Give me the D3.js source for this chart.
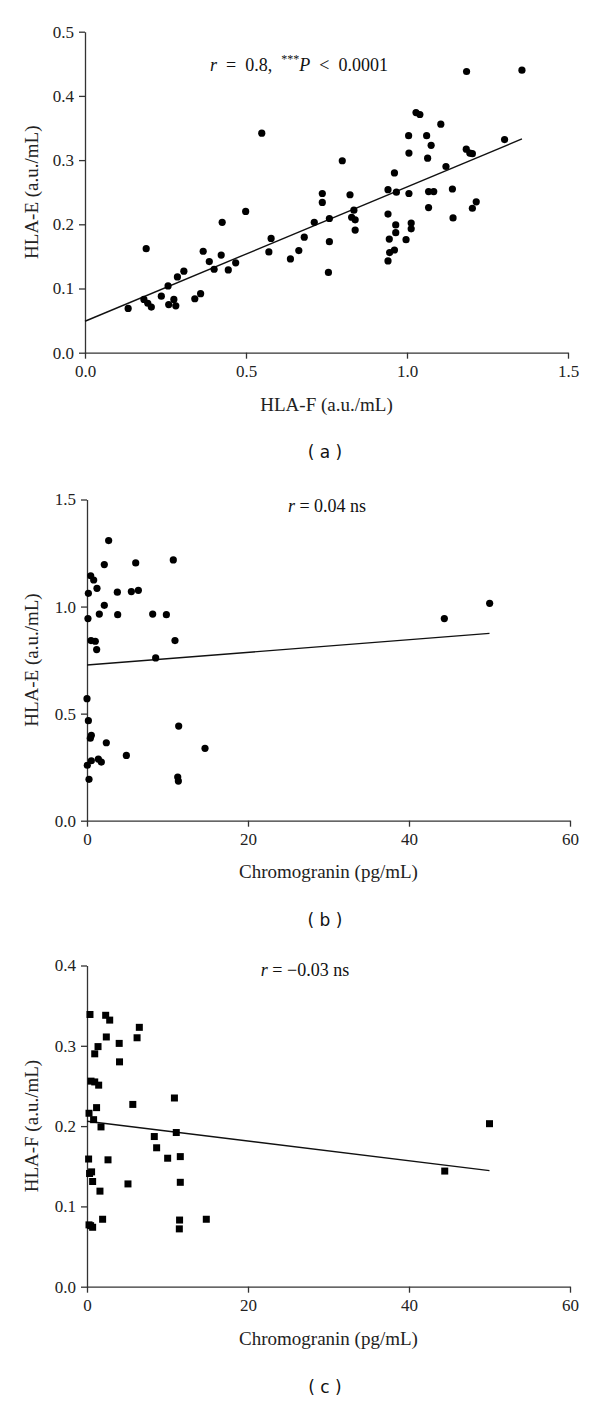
<!DOCTYPE html>
<html>
<head>
<meta charset="utf-8">
<script src="https://cdn.jsdelivr.net/npm/d3@7"></script>
<style>
  html, body { margin: 0; padding: 0; background: #fff; }
  svg { display: block; }
  text { white-space: pre; }
</style>
</head>
<body>
<svg id="chart" width="600" height="1401"></svg>
<script>
// ---------- Panel (a): HLA-F vs HLA-E ----------
const aHLAF = [0.134,0.190,0.183,0.195,0.206,0.237,0.258,0.260,0.276,0.282,0.287,0.307,0.341,0.359,0.367,0.386,0.401,0.423,0.426,0.445,0.468,0.499,0.549,0.571,0.578,0.638,0.664,0.681,0.712,0.737,0.737,0.759,0.759,0.756,
  0.799,0.823,0.835,0.828,0.839,0.839,0.941,0.941,0.945,0.941,0.946,0.961,0.961,0.967,0.965,0.965,0.997,1.005,1.006,1.006,1.013,1.013,1.028,1.040,1.061,1.075,1.064,1.067,1.083,1.067,1.105,1.121,1.141,1.143,1.185,1.184,1.195,1.203,1.215,1.203,1.303,1.357];
const aHLAE = [0.069,0.162,0.083,0.077,0.071,0.088,0.104,0.075,0.083,0.073,0.118,0.127,0.084,0.092,0.158,0.142,0.130,0.152,0.203,0.129,0.140,0.220,0.342,0.157,0.178,0.146,0.159,0.180,0.203,0.248,0.234,0.209,0.173,0.125,
  0.299,0.246,0.222,0.211,0.207,0.191,0.254,0.216,0.177,0.143,0.156,0.160,0.280,0.250,0.199,0.187,0.176,0.338,0.311,0.248,0.202,0.193,0.374,0.371,0.338,0.323,0.303,0.251,0.251,0.226,0.356,0.290,0.255,0.210,0.438,0.317,0.311,0.310,0.235,0.225,0.332,0.440];
const aFitX = [0, 1.357];
const aFitY = [0.049, 0.333];
const aXTicks = [0, 0.5, 1.0, 1.5];
const aYTicks = [0, 0.1, 0.2, 0.3, 0.4, 0.5];

// ---------- Panel (b): Chromogranin vs HLA-E ----------
const bChromo = [2.69,2.15,6.05,10.72,0.46,0.83,1.24,0.17,3.77,5.51,6.38,2.15,0.12,1.53,3.81,8.16,9.86,0.50,1.03,1.20,10.93,8.53,0.0,0.17,11.39,0.54,0.41,2.40,14.66,4.89,0.54,1.41,1.78,0.04,0.25,11.27,11.35,44.39,50.02];
const bHLAE = [1.308,1.196,1.204,1.218,1.144,1.124,1.085,1.062,1.067,1.070,1.076,1.006,0.944,0.965,0.962,0.965,0.962,0.841,0.838,0.799,0.841,0.760,0.570,0.467,0.442,0.399,0.385,0.364,0.338,0.305,0.280,0.288,0.274,0.259,0.193,0.204,0.185,0.944,1.015];
const bFitX = [0, 50];
const bFitY = [0.727, 0.875];
const bXTicks = [0, 20, 40, 60];
const bYTicks = [0, 0.5, 1.0, 1.5];

// ---------- Panel (c): Chromogranin vs HLA-F ----------
const cChromo = [0.37,2.32,2.82,6.50,2.40,6.22,4.00,1.37,0.96,4.04,0.50,0.96,1.45,10.86,5.69,1.19,0.25,0.82,1.74,11.09,8.36,8.65,10.02,11.59,0.20,2.61,0.57,0.32,0.70,5.09,11.59,1.61,1.94,11.50,14.82,0.25,0.45,0.70,11.47,44.44,50.0];
const cHLAF = [0.339,0.338,0.332,0.323,0.311,0.310,0.303,0.299,0.290,0.280,0.256,0.255,0.251,0.235,0.227,0.223,0.216,0.208,0.199,0.192,0.187,0.173,0.160,0.162,0.159,0.158,0.143,0.141,0.131,0.128,0.130,0.119,0.084,0.083,0.084,0.077,0.076,0.074,0.072,0.144,0.203];
const cFitX = [0, 50];
const cFitY = [0.206, 0.1446];
const cXTicks = [0, 20, 40, 60];
const cYTicks = [0, 0.1, 0.2, 0.3, 0.4];

const svg = d3.select("#chart");
const AXIS = "#333";
const SERIF = "'Liberation Serif', 'Times New Roman', serif";

function drawPanel(p) {
  const g = svg.append("g");
  const x = d3.scaleLinear().domain(p.xDomain).range(p.xRange);
  const y = d3.scaleLinear().domain(p.yDomain).range(p.yRange);

  const xAxis = d3.axisBottom(x).tickValues(p.xTicks).tickFormat(d3.format(p.xFmt)).tickSizeInner(6).tickSizeOuter(0).tickPadding(6);
  const yAxis = d3.axisLeft(y).tickValues(p.yTicks).tickFormat(d3.format(p.yFmt)).tickSizeInner(6).tickSizeOuter(0).tickPadding(5);

  const gx = g.append("g").attr("transform", `translate(0,${p.yRange[0]})`).call(xAxis);
  const gy = g.append("g").attr("transform", `translate(${p.xRange[0]},0)`).call(yAxis);
  [gx, gy].forEach(a => {
    a.attr("font-family", SERIF).attr("font-size", 17);
    a.select(".domain").attr("stroke", AXIS).attr("stroke-width", 1.3);
    a.selectAll(".tick line").attr("stroke", AXIS).attr("stroke-width", 1.3);
    a.selectAll(".tick text").attr("fill", "#222").style("font-family", SERIF).style("font-size", "17px");
  });

  // regression line
  const line = d3.line().x(d => x(d[0])).y(d => y(d[1]));
  g.append("path")
    .datum(d3.zip(p.fitX, p.fitY))
    .attr("d", line)
    .attr("fill", "none")
    .attr("stroke", "#111")
    .attr("stroke-width", 1.4);

  // points
  const pts = d3.zip(p.xs, p.ys);
  if (p.square) {
    const s = 7;
    g.append("g").selectAll("rect").data(pts).join("rect")
      .attr("x", d => x(d[0]) - s / 2)
      .attr("y", d => y(d[1]) - s / 2)
      .attr("width", s).attr("height", s)
      .attr("fill", "#000");
  } else {
    g.append("g").selectAll("circle").data(pts).join("circle")
      .attr("cx", d => x(d[0]))
      .attr("cy", d => y(d[1]))
      .attr("r", 3.6)
      .attr("fill", "#000");
  }

  // axis titles
  const xc = (p.xRange[0] + p.xRange[1]) / 2;
  g.append("text")
    .attr("x", xc).attr("y", p.xTitleY)
    .attr("text-anchor", "middle").attr("dominant-baseline", "central")
    .style("font-family", SERIF).style("font-size", "19px").attr("fill", "#222")
    .text(p.xTitle);
  const yc = (p.yRange[0] + p.yRange[1]) / 2;
  g.append("text")
    .attr("transform", `translate(31.5,${yc}) rotate(-90)`)
    .attr("text-anchor", "middle").attr("dominant-baseline", "central")
    .style("font-family", SERIF).style("font-size", "19px").attr("fill", "#222")
    .text(p.yTitle);

  // annotation
  const ann = g.append("text")
    .attr("x", p.annX).attr("y", p.annY)
    .attr("text-anchor", "middle").attr("dominant-baseline", "central")
    .style("font-family", SERIF).style("font-size", "18px").attr("fill", "#111");
  p.ann.forEach(part => {
    const t = ann.append("tspan").text(part.t);
    if (part.i) t.style("font-style", "italic");
    if (part.sup) t.style("font-size", "12px").attr("dy", -6);
    if (part.down) t.attr("dy", 6);
  });

  // panel label
  g.append("text")
    .attr("x", p.labelX).attr("y", p.labelY)
    .attr("text-anchor", "middle").attr("dominant-baseline", "central")
    .style("font-family", "'DejaVu Sans', sans-serif").style("font-size", "17px").attr("fill", "#111")
    .text(p.label);
}

drawPanel({
  xs: aHLAF, ys: aHLAE, fitX: aFitX, fitY: aFitY,
  xDomain: [0, 1.5], xRange: [85, 568], yDomain: [0, 0.5], yRange: [352.7, 31.7],
  xTicks: aXTicks, yTicks: aYTicks, xFmt: ".1f", yFmt: ".1f",
  xTitle: "HLA-F (a.u./mL)", yTitle: "HLA-E (a.u./mL)", xTitleY: 404,
  ann: [{t: "r", i: true}, {t: "  =  0.8,  "}, {t: "***", sup: true}, {t: "P", i: true, down: true}, {t: "  <  0.0001"}],
  annX: 299, annY: 65,
  label: "( a )", labelX: 325, labelY: 452, square: false
});

drawPanel({
  xs: bChromo, ys: bHLAE, fitX: bFitX, fitY: bFitY,
  xDomain: [0, 60], xRange: [87, 570], yDomain: [0, 1.5], yRange: [820.7, 499.5],
  xTicks: bXTicks, yTicks: bYTicks, xFmt: "d", yFmt: ".1f",
  xTitle: "Chromogranin (pg/mL)", yTitle: "HLA-E (a.u./mL)", xTitleY: 871,
  ann: [{t: "r", i: true}, {t: " = 0.04 ns"}],
  annX: 327, annY: 506,
  label: "( b )", labelX: 325, labelY: 920, square: false
});

drawPanel({
  xs: cChromo, ys: cHLAF, fitX: cFitX, fitY: cFitY,
  xDomain: [0, 60], xRange: [87, 570], yDomain: [0, 0.4], yRange: [1286.7, 965.5],
  xTicks: cXTicks, yTicks: cYTicks, xFmt: "d", yFmt: ".1f",
  xTitle: "Chromogranin (pg/mL)", yTitle: "HLA-F (a.u./mL)", xTitleY: 1338,
  ann: [{t: "r", i: true}, {t: " = \u22120.03 ns"}],
  annX: 305, annY: 970,
  label: "( c )", labelX: 325, labelY: 1387, square: true
});
</script>
</body>
</html>
